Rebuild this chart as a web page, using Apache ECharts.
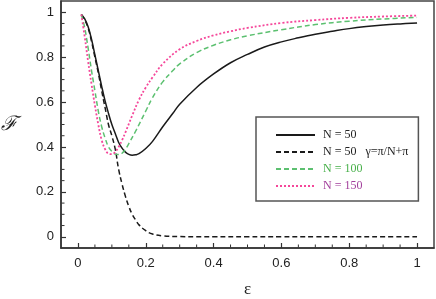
<!DOCTYPE html>
<html><head><meta charset="utf-8">
<script src="https://cdn.jsdelivr.net/npm/echarts@6/dist/echarts.min.js"></script>
<style>html,body{margin:0;padding:0;background:#fff}#c{width:436px;height:299px}</style>
</head><body><div id="c"></div>
<script>
var seriesNames = ['N = 50', 'N = 50 γ', 'N = 100', 'N = 150'];
var legendLabels = ['N = 50', 'N = 50   γ=π/N+π', 'N = 100', 'N = 150'];
var xMajorTicks = [0, 0.2, 0.4, 0.6, 0.8, 1];
var xMinorTicks = [0.05,0.1,0.15,0.25,0.3,0.35,0.45,0.5,0.55,0.65,0.7,0.75,0.85,0.9,0.95];
var yMajorTicks = [0, 0.2, 0.4, 0.6, 0.8, 1];
var yMinorTicks = [0.05,0.1,0.15,0.25,0.3,0.35,0.45,0.5,0.55,0.65,0.7,0.75,0.85,0.9,0.95];
var axisMin = -0.05, axisMax = 1.05;

var eps50 = [0.01,0.02,0.03,0.04,0.05,0.06,0.07,0.08,0.09,0.1,0.11,0.12,0.13,0.14,0.15,0.16,0.17,0.18,0.2,0.22,0.25,0.28,0.3,0.35,0.4,0.45,0.5,0.55,0.6,0.65,0.7,0.75,0.8,0.85,0.9,0.95,1.0];
var f50 = [0.99,0.97,0.935,0.88,0.81,0.74,0.67,0.605,0.55,0.5,0.46,0.42,0.395,0.377,0.367,0.363,0.365,0.37,0.393,0.425,0.49,0.55,0.59,0.665,0.725,0.775,0.812,0.845,0.868,0.886,0.902,0.915,0.927,0.936,0.943,0.948,0.952];

var eps50g = [0.01,0.02,0.03,0.04,0.05,0.06,0.07,0.08,0.09,0.1,0.11,0.12,0.13,0.14,0.15,0.16,0.17,0.18,0.2,0.22,0.25,0.3,0.35,0.4,0.5,0.6,0.7,0.8,0.9,1.0];
var f50g = [0.99,0.965,0.93,0.87,0.8,0.73,0.65,0.575,0.5,0.45,0.39,0.3,0.235,0.18,0.135,0.1,0.075,0.053,0.027,0.012,0.004,0.001,0,0,0,0,0,0,0,0];

var eps100 = [0.01,0.02,0.03,0.04,0.05,0.06,0.07,0.08,0.09,0.1,0.11,0.12,0.13,0.14,0.15,0.17,0.2,0.22,0.25,0.28,0.3,0.35,0.4,0.45,0.5,0.6,0.7,0.8,0.9,1.0];
var f100 = [0.99,0.93,0.84,0.74,0.65,0.56,0.49,0.44,0.4,0.38,0.368,0.366,0.372,0.39,0.415,0.47,0.56,0.62,0.69,0.74,0.77,0.82,0.853,0.877,0.895,0.922,0.945,0.96,0.97,0.977];

var eps150 = [0.01,0.02,0.03,0.04,0.05,0.06,0.07,0.08,0.09,0.1,0.11,0.12,0.13,0.14,0.16,0.18,0.2,0.22,0.25,0.3,0.35,0.4,0.45,0.5,0.6,0.7,0.8,0.9,1.0];
var f150 = [0.99,0.89,0.78,0.68,0.585,0.5,0.43,0.39,0.37,0.368,0.378,0.4,0.43,0.465,0.54,0.61,0.665,0.71,0.77,0.835,0.872,0.897,0.915,0.93,0.952,0.965,0.975,0.981,0.985];

function pairs(xs, ys){ return xs.map(function(x,i){return [x, ys[i]];}); }

var chart = echarts.init(document.getElementById('c'), null, {renderer:'canvas'});
var sansFont = '"Liberation Sans", Arial, sans-serif';
var serifFont = '"Liberation Serif", "Times New Roman", serif';

// minor tick marks drawn through the axes' own scales
var xTickData = xMinorTicks.map(function(v){return [v, axisMin];});
var yTickData = yMinorTicks.map(function(v){return [axisMin, v];});
function tickRenderer(dir){
  return function(params, api){
    var p = api.coord([api.value(0), api.value(1)]);
    var shape = dir === 'x' ? {x1:p[0], y1:p[1]-0.5, x2:p[0], y2:p[1]-3.5} : {x1:p[0]+0.5, y1:p[1], x2:p[0]+3.5, y2:p[1]};
    return {type:'line', shape:shape, style:{stroke:'#333', lineWidth:1, fill:null}};
  };
}

var option = {
  animation:false,
  grid:{left:61, top:1, right:2, bottom:51, containLabel:false, outerBoundsMode:'none',
        show:true, borderColor:'#444', borderWidth:1.5, backgroundColor:'transparent'},
  xAxis:{
    type:'value', min:axisMin, max:axisMax, splitLine:{show:false},
    axisLine:{show:true, onZero:false, lineStyle:{color:'#333', width:1.5}},
    name:'ε', nameLocation:'middle', nameGap:33,
    nameTextStyle:{fontFamily:serifFont, fontSize:17, color:'#222'},
    axisTick:{show:true, inside:false, length:-5, customValues:xMajorTicks, lineStyle:{color:'#333', width:1.2}},
    axisLabel:{show:true, margin:9, customValues:xMajorTicks, fontFamily:sansFont, fontSize:13, color:'#222',
      formatter:function(v){return String(+v.toFixed(2));}}
  },
  yAxis:{
    type:'value', min:axisMin, max:axisMax, splitLine:{show:false},
    axisLine:{show:true, onZero:false, lineStyle:{color:'#333', width:1.5}},
    name:'ℱ', nameLocation:'middle', nameGap:44, nameRotate:0,
    nameTextStyle:{fontFamily:'"DejaVu Serif", serif', fontStyle:'italic', fontSize:20, color:'#222'},
    axisTick:{show:true, inside:false, length:-5, customValues:yMajorTicks, lineStyle:{color:'#333', width:1.2}},
    axisLabel:{show:true, margin:7, customValues:yMajorTicks, fontFamily:sansFont, fontSize:13, color:'#222',
      formatter:function(v){return String(+v.toFixed(2));}}
  },
  legend:{
    orient:'vertical', left:256, top:117,
    padding:[12, 10, 9, 19],
    itemWidth:39, itemHeight:12, itemGap:5,
    backgroundColor:'#fff', borderColor:'#555', borderWidth:1.5, borderRadius:0,
    itemStyle:{color:'transparent', borderColor:'transparent', borderWidth:0, opacity:0},
    textStyle:{fontFamily:serifFont, fontSize:12, color:'#222', padding:[0,0,0,3]},
    formatter:function(name){ return legendLabels[seriesNames.indexOf(name)]; },
    data:[
      {name:seriesNames[0], textStyle:{color:'#222'}},
      {name:seriesNames[1], textStyle:{color:'#222'}},
      {name:seriesNames[2], textStyle:{color:'#48b04a'}},
      {name:seriesNames[3], textStyle:{color:'#a3409c'}}
    ]
  },
  series:[
    {name:'xticks', type:'custom', coordinateSystem:'cartesian2d', silent:true, clip:false, data:xTickData,
      encode:{x:0, y:1}, renderItem:tickRenderer('x'), z:10},
    {name:'yticks', type:'custom', coordinateSystem:'cartesian2d', silent:true, clip:false, data:yTickData,
      encode:{x:0, y:1}, renderItem:tickRenderer('y'), z:10},
    {name:seriesNames[0], type:'line', data:pairs(eps50,f50), showSymbol:false, symbol:'none', smooth:0.4,
      lineStyle:{color:'#1a1a1a', width:1.5, type:'solid'}, itemStyle:{color:'#1a1a1a'}},
    {name:seriesNames[1], type:'line', data:pairs(eps50g,f50g), showSymbol:false, symbol:'none', smooth:0.4,
      lineStyle:{color:'#1a1a1a', width:1.5, type:[5,3]}, itemStyle:{color:'#1a1a1a'}},
    {name:seriesNames[2], type:'line', data:pairs(eps100,f100), showSymbol:false, symbol:'none', smooth:0.4,
      lineStyle:{color:'#5cc070', width:1.5, type:[5,3]}, itemStyle:{color:'#5cc070'}},
    {name:seriesNames[3], type:'line', data:pairs(eps150,f150), showSymbol:false, symbol:'none', smooth:0.4,
      lineStyle:{color:'#f5479a', width:1.8, type:[2,2]}, itemStyle:{color:'#f5479a'}}
  ]
};
chart.setOption(option);
</script></body></html>
